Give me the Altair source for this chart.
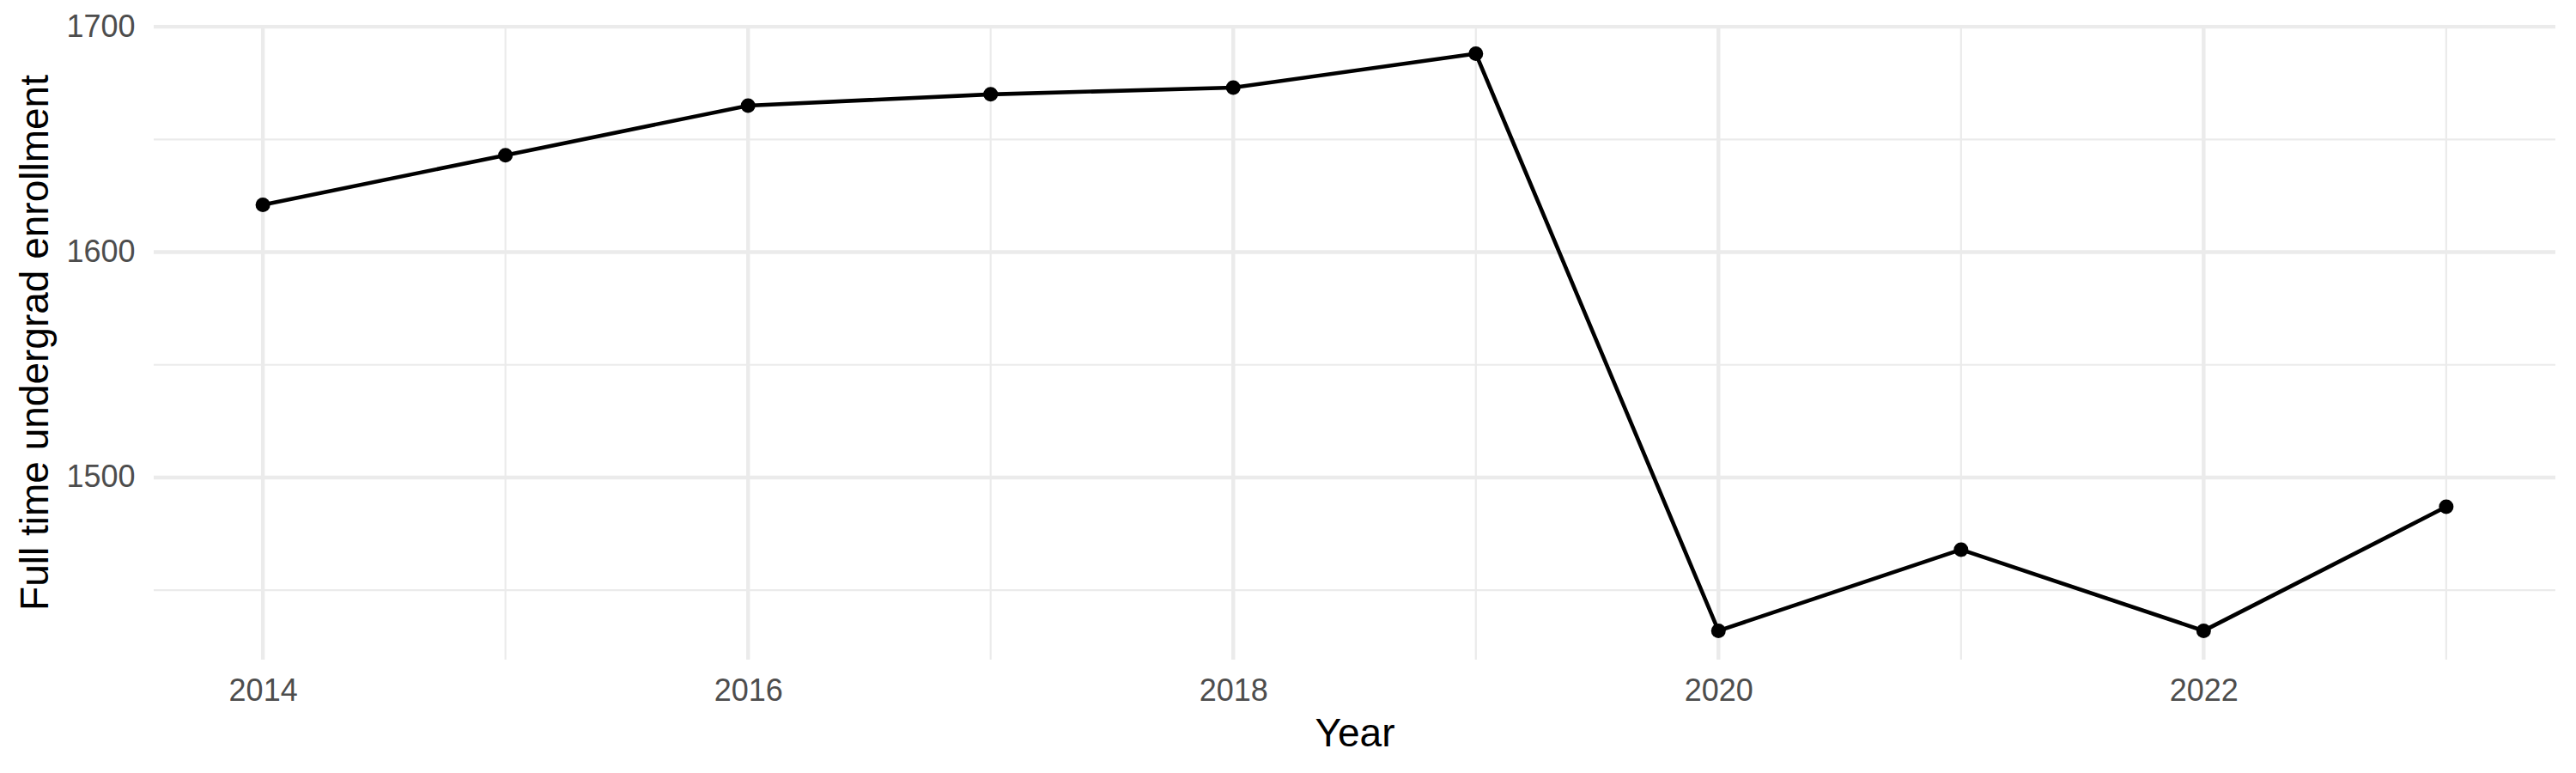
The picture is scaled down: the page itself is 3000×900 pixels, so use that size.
import altair as alt
import pandas as pd

years = [2014, 2015, 2016, 2017, 2018, 2019, 2020, 2021, 2022, 2023]
enrollment = [1621, 1643, 1665, 1670, 1673, 1688, 1432, 1468, 1432, 1487]

x_major = [2014, 2016, 2018, 2020, 2022]
x_minor = [2015, 2017, 2019, 2021, 2023]
y_major = [1500, 1600, 1700]
y_minor = [1450, 1550, 1650]

df = pd.DataFrame({"Year": years, "Enrollment": enrollment})

FONT = "Liberation Sans"
GRID = "#EBEBEB"

xscale = alt.Scale(domain=[2013.55, 2023.45], nice=False, zero=False)
yscale = alt.Scale(domain=[1419.2, 1700.8], nice=False, zero=False)

W, H = 2797, 739

xaxis = alt.Axis(
    values=x_major, format="d", grid=False, domain=False, ticks=False, tickSize=0,
    labelFont=FONT, labelFontSize=36, labelColor="#4D4D4D", labelPadding=47,
    labelBaseline="alphabetic", labelFlush=False, labelOverlap=False,
    title="Year", titleFont=FONT, titleFontSize=46, titleFontWeight="normal",
    titleColor="#000000", titleBaseline="alphabetic", titleY=100, titleX=W / 2,
    titleAlign="center",
)
yaxis = alt.Axis(
    values=y_major, format="d", grid=False, domain=False, ticks=False, tickSize=0,
    labelFont=FONT, labelFontSize=36, labelColor="#4D4D4D", labelPadding=22,
    labelBaseline="middle", labelAlign="right",
    title="Full time undergrad enrollment", titleFont=FONT, titleFontSize=46,
    titleFontWeight="normal", titleColor="#000000", titleAngle=270,
    titleBaseline="alphabetic", titleX=-124, titleY=H / 2, titleAlign="center",
)

X = alt.X("Year:Q", scale=xscale, axis=xaxis, title="Year")
Y = alt.Y("Enrollment:Q", scale=yscale, axis=yaxis, title="Full time undergrad enrollment")

gx_minor = alt.Chart(pd.DataFrame({"Year": x_minor})).mark_rule(
    color=GRID, strokeWidth=2.2).encode(x=X)
gx_major = alt.Chart(pd.DataFrame({"Year": x_major})).mark_rule(
    color=GRID, strokeWidth=4.4).encode(x=X)
gy_minor = alt.Chart(pd.DataFrame({"Enrollment": y_minor})).mark_rule(
    color=GRID, strokeWidth=2.2).encode(y=Y)
gy_major = alt.Chart(pd.DataFrame({"Enrollment": y_major})).mark_rule(
    color=GRID, strokeWidth=4.4).encode(y=Y)

base = alt.Chart(df).encode(x=X, y=Y)
line = base.mark_line(color="#000000", strokeWidth=4.6)
points = base.mark_circle(color="#000000", opacity=1, size=290)

chart = alt.layer(gy_minor, gx_minor, gy_major, gx_major, line, points).properties(
    width=W, height=H,
    autosize=alt.AutoSizeParams(type="none"),
    padding={"left": 171, "top": 21, "right": 8, "bottom": 110},
    background="#FFFFFF",
).configure_view(strokeWidth=0)

chart.save("out.html", embed_options={"renderer": "svg", "actions": False})
